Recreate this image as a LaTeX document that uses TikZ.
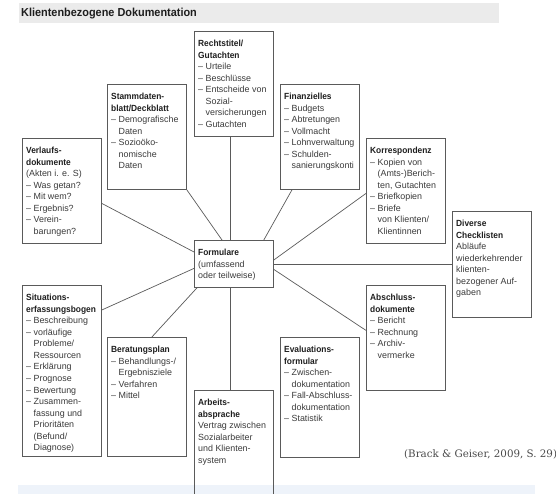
\documentclass[tikz,border=0pt]{standalone}
\usepackage{fontspec}
\setmainfont{Liberation Sans}[BoldFeatures={FakeStretch=0.94}]
\newfontfamily\citefont{DejaVu Serif}
\usetikzlibrary{positioning,calc}
\definecolor{linegray}{HTML}{5A5A5A}
\definecolor{textgray}{HTML}{3A3A3A}
\definecolor{headcol}{HTML}{1E1E1E}
\definecolor{titleband}{HTML}{EBEBEB}
\definecolor{footband}{HTML}{EEF3FA}
\definecolor{citegray}{HTML}{4A4A4A}
\newcommand{\itemind}{\hphantom{– }}
\newcommand{\boxhead}[1]{\textcolor{headcol}{\textbf{#1}}}

\begin{document}
\begin{tikzpicture}[x=1pt,y=-1pt,
    box/.style={draw=linegray,line width=0.8pt,minimum width=79pt,anchor=north west,inner sep=0pt},
    boxtext/.style={anchor=north west,inner sep=0pt,align=left,text=textgray,
      font=\fontsize{8.9}{11.55}\selectfont},
    link/.style={draw=linegray,line width=0.7pt}]
  \useasboundingbox (0,0) rectangle (556,494);
  \clip (0,0) rectangle (556,494);
  % bands
  \fill[titleband] (19,3) rectangle (499,23);
  \node[anchor=west,inner sep=0pt,text=headcol,font=\bfseries\fontsize{11.6}{13}\selectfont] (title) at (21,13.5) {Klientenbezogene Dokumentation};
  \fill[footband] (18,485) rectangle (535,494);
  % boxes
  \node[box,minimum height=105pt] (recht) at (194,31) {};
  \node[box,minimum height=105pt] (stamm) at (107,84) {};
  \node[box,minimum height=105pt] (verlauf) at (22,138) {};
  \node[box,minimum height=105pt] (finanz) at (280,84) {};
  \node[box,minimum height=105pt] (korr) at (366,138) {};
  \node[box,minimum height=106pt] (check) at (452,211) {};
  \node[box,minimum height=47pt] (form) at (194,240) {};
  \node[box,minimum height=105pt] (absch) at (366,285) {};
  \node[box,minimum height=120pt] (eval) at (280,337) {};
  \node[box,minimum height=125pt] (arbeit) at (194,390) {};
  \node[box,minimum height=119pt] (berat) at (107,337) {};
  \node[box,minimum height=171pt] (sit) at (22,285) {};
  % texts
  \node[boxtext] (recht-t) at ($(recht.north west)+(4,9)$) {\boxhead{Rechtstitel/}\\\boxhead{Gutachten}\\– Urteile\\– Beschlüsse\\– Entscheide von\\\itemind Sozial-\\\itemind versicherungen\\– Gutachten};
  \node[boxtext] (stamm-t) at ($(stamm.north west)+(4,9)$) {\boxhead{Stammdaten-}\\\boxhead{blatt/Deckblatt}\\– Demografische\\\itemind Daten\\– Sozioöko-\\\itemind nomische\\\itemind Daten};
  \node[boxtext] (verlauf-t) at ($(verlauf.north west)+(4,9)$) {\boxhead{Verlaufs-}\\\boxhead{dokumente}\\(Akten i. e. S)\\– Was getan?\\– Mit wem?\\– Ergebnis?\\– Verein-\\\itemind barungen?};
  \node[boxtext] (finanz-t) at ($(finanz.north west)+(4,9)$) {\boxhead{Finanzielles}\\– Budgets\\– Abtretungen\\– Vollmacht\\– Lohnverwaltung\\– Schulden-\\\itemind sanierungskonti};
  \node[boxtext] (korr-t) at ($(korr.north west)+(4,9)$) {\boxhead{Korrespondenz}\\– Kopien von\\\itemind (Amts-)Berich-\\\itemind ten, Gutachten\\– Briefkopien\\– Briefe\\\itemind von Klienten/\\\itemind Klientinnen};
  \node[boxtext] (check-t) at ($(check.north west)+(4,9)$) {\boxhead{Diverse}\\\boxhead{Checklisten}\\Abläufe\\wiederkehrender\\klienten-\\bezogener Auf-\\gaben};
  \node[boxtext] (form-t) at ($(form.north west)+(4,9)$) {\boxhead{Formulare}\\(umfassend\\oder teilweise)};
  \node[boxtext] (absch-t) at ($(absch.north west)+(4,9)$) {\boxhead{Abschluss-}\\\boxhead{dokumente}\\– Bericht\\– Rechnung\\– Archiv-\\\itemind vermerke};
  \node[boxtext] (eval-t) at ($(eval.north west)+(4,9)$) {\boxhead{Evaluations-}\\\boxhead{formular}\\– Zwischen-\\\itemind dokumentation\\– Fall-Abschluss-\\\itemind dokumentation\\– Statistik};
  \node[boxtext] (arbeit-t) at ($(arbeit.north west)+(4,9)$) {\boxhead{Arbeits-}\\\boxhead{absprache}\\Vertrag zwischen\\Sozialarbeiter\\und Klienten-\\system};
  \node[boxtext] (berat-t) at ($(berat.north west)+(4,9)$) {\boxhead{Beratungsplan}\\– Behandlungs-/\\\itemind Ergebnisziele\\– Verfahren\\– Mittel};
  \node[boxtext] (sit-t) at ($(sit.north west)+(4,9)$) {\boxhead{Situations-}\\\boxhead{erfassungsbogen}\\– Beschreibung\\– vorläufige\\\itemind Probleme/\\\itemind Ressourcen\\– Erklärung\\– Prognose\\– Bewertung\\– Zusammen-\\\itemind fassung und\\\itemind Prioritäten\\\itemind (Befund/\\\itemind Diagnose)};
  % connectors
  \draw[link] ($(recht.south)+(-3.5,0)$) -- ($(form.north)+(-3.5,0)$);
  \draw[link] ($(form.south)+(-3.5,0)$) -- ($(arbeit.north)+(-3.5,0)$);
  \draw[link] (stamm.south east) -- ($(form.north west)+(28,0)$);
  \draw[link] ($(finanz.south west)+(12,0)$) -- ($(form.north east)+(-10,0)$);
  \draw[link] ($(verlauf.east)+(0,12.5)$) -- ($(form.north west)+(0,12)$);
  \draw[link] ($(korr.west)+(0,2.5)$) -- ($(form.north east)+(0,20)$);
  \draw[link] (form.east) -- (form.east -| check.west);
  \draw[link] ($(form.east)+(0,5.5)$) -- ($(absch.west)+(0,-7.5)$);
  \draw[link] ($(form.west)+(0,4.5)$) -- ($(sit.north east)+(0,25)$);
  \draw[link] ($(form.south west)+(3,0)$) -- ($(berat.north)+(5,0)$);
  % source
  \node[anchor=west,inner sep=0pt,text=citegray,font=\citefont\fontsize{10.3}{12}\selectfont] (quelle) at (404,454) {(Brack \& Geiser, 2009, S. 29)};
\end{tikzpicture}
\end{document}
